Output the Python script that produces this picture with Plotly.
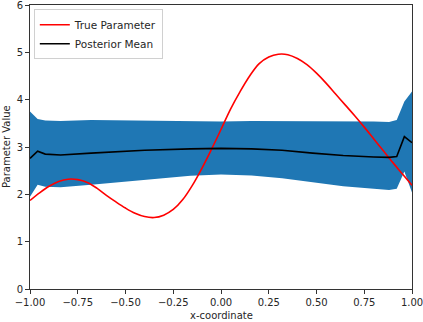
import plotly.graph_objects as go

# True parameter, sampled every 0.05 on [-1, 1]
true_x = [round(-1 + 0.05 * i, 2) for i in range(41)]
true_y = [1.87, 2.03, 2.17, 2.27, 2.32, 2.31, 2.25, 2.13, 1.98, 1.84,
          1.71, 1.60, 1.53, 1.51, 1.56, 1.68, 1.89, 2.19, 2.55, 2.95,
          3.37, 3.80, 4.17, 4.50, 4.76, 4.90, 4.96, 4.95, 4.87, 4.74,
          4.56, 4.35, 4.12, 3.89, 3.66, 3.42, 3.17, 2.92, 2.67, 2.43,
          2.19]

# posterior mean and band
post_x = [-1.00, -0.96, -0.92, -0.84, -0.68, -0.40, -0.16, 0.00, 0.16,
          0.32, 0.48, 0.64, 0.80, 0.88, 0.92, 0.96, 1.00]
post_mean = [2.76, 2.91, 2.85, 2.83, 2.87, 2.93, 2.96, 2.97, 2.96,
             2.93, 2.87, 2.82, 2.79, 2.78, 2.80, 3.22, 3.09]
post_upper = [3.75, 3.59, 3.56, 3.55, 3.57, 3.56, 3.54, 3.54, 3.55,
              3.55, 3.54, 3.54, 3.54, 3.53, 3.57, 3.96, 4.17]
post_lower = [1.95, 2.20, 2.16, 2.15, 2.20, 2.30, 2.39, 2.42, 2.40,
              2.34, 2.26, 2.17, 2.12, 2.09, 2.12, 2.48, 2.04]

x_ticks = [-1.0, -0.75, -0.5, -0.25, 0.0, 0.25, 0.5, 0.75, 1.0]
x_tick_text = ["\u22121.00", "\u22120.75", "\u22120.50", "\u22120.25",
               "0.00", "0.25", "0.50", "0.75", "1.00"]
y_ticks = [0, 1, 2, 3, 4, 5, 6]

txt = dict(family="DejaVu Sans", size=10, color="#262626")

fig = go.Figure()
fig.add_trace(go.Scatter(x=post_x, y=post_lower, mode="lines",
                         line=dict(width=0, color="#1f77b4"),
                         showlegend=False, hoverinfo="skip"))
fig.add_trace(go.Scatter(x=post_x, y=post_upper, mode="lines",
                         line=dict(width=0, color="#1f77b4"),
                         fill="tonexty", fillcolor="#1f77b4",
                         showlegend=False, hoverinfo="skip"))
fig.add_trace(go.Scatter(x=true_x, y=true_y, mode="lines", name="True Parameter",
                         line=dict(color="red", width=1.6, shape="spline")))
fig.add_trace(go.Scatter(x=post_x, y=post_mean, mode="lines", name="Posterior Mean",
                         line=dict(color="black", width=1.6)))

axis_style = dict(showline=True, linecolor="#333333", linewidth=1, mirror=True,
                  ticks="outside", ticklen=4, tickcolor="#333333",
                  showgrid=False, zeroline=False, automargin=False,
                  ticklabeloverflow="allow", tickfont=txt)

fig.update_xaxes(range=[-1, 1], tickvals=x_ticks, ticktext=x_tick_text, **axis_style)
fig.update_yaxes(range=[0, 6], tickvals=y_ticks, **axis_style)

# axis titles as annotations so they sit where the reference has them
fig.add_annotation(text="x-coordinate", xref="paper", yref="paper", x=0.5, y=0,
                   xanchor="center", yanchor="top", yshift=-19, showarrow=False, font=txt)
fig.add_annotation(text="Parameter Value", xref="paper", yref="paper", x=0, y=0.5,
                   xanchor="center", yanchor="middle", xshift=-24, textangle=-90,
                   showarrow=False, font=txt)

fig.update_layout(
    width=423, height=322,
    margin=dict(l=30, r=11, t=5, b=33),
    plot_bgcolor="white", paper_bgcolor="white",
    legend=dict(x=0.01, y=0.985, xanchor="left", yanchor="top", traceorder="normal",
                bgcolor="rgba(255,255,255,0.8)", bordercolor="#d0d0d0", borderwidth=1,
                font=dict(family="DejaVu Sans", size=10.5, color="#262626")),
    font=dict(family="DejaVu Sans", size=10),
)

# drop the default body margin so the figure fills the window
fig.write_html("out.html", config={"displayModeBar": False},
               post_script="document.body.style.margin='0';")
